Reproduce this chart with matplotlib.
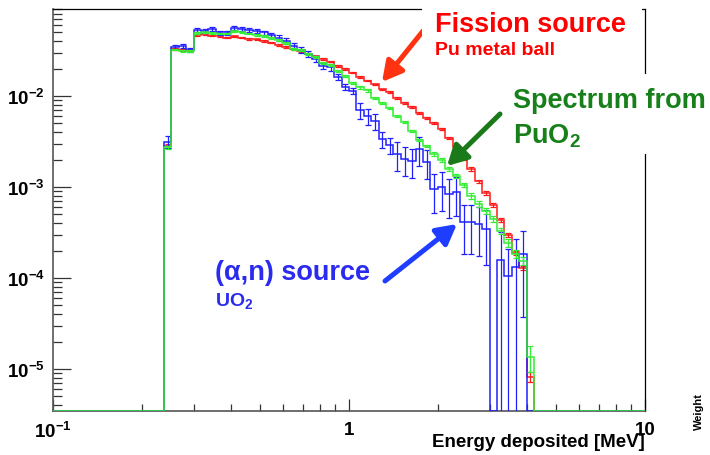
import numpy as np
import matplotlib.pyplot as plt
from matplotlib.patches import Rectangle
from matplotlib.ticker import FixedLocator, FixedFormatter, LogLocator, NullFormatter

plt.rcParams['font.family'] = ['Liberation Sans', 'DejaVu Sans']
plt.rcParams['font.weight'] = 'bold'
plt.rcParams['mathtext.fontset'] = 'custom'
plt.rcParams['mathtext.rm'] = 'Liberation Sans:bold'
plt.rcParams['mathtext.it'] = 'Liberation Sans:bold'
plt.rcParams['mathtext.bf'] = 'Liberation Sans:bold'

# 80 log bins between 0.1 and 10 MeV, filled from bin 15 to bin 64
edges = np.logspace(-1, 1, 81)
first_bin = 15

# fission source, Pu metal ball
fission = [0.00283, 0.0328, 0.0320, 0.0320, 0.0468, 0.0480, 0.0462, 0.0456, 0.0439, 0.0451,
           0.0439, 0.0423, 0.0418, 0.0402, 0.0387, 0.0363, 0.0345, 0.0328, 0.0313, 0.0293,
           0.0272, 0.0255, 0.0237, 0.0214, 0.0198, 0.0181, 0.0162, 0.0148, 0.0134, 0.0119,
           0.0111, 0.00951, 0.00838, 0.00757, 0.00650, 0.00573, 0.00505, 0.00434, 0.00345, 0.00275,
           0.00205, 0.00158, 0.00116, 0.000859, 0.000634, 0.000434, 0.000297, 0.000188, 0.000129, 8.2e-6]
fission_rel = [0.05] + [0.015] * 29 + [0.025] * 10 + [0.04] * 5 + [0.06] * 4 + [0.13]

# PuO2
puo2 = [0.00272, 0.0324, 0.0313, 0.0313, 0.0492, 0.0499, 0.0492, 0.0486, 0.0486, 0.0512,
        0.0499, 0.0486, 0.0468, 0.0456, 0.0434, 0.0412, 0.0382, 0.0328, 0.0320, 0.0290,
        0.0269, 0.0231, 0.0219, 0.0188, 0.0166, 0.0139, 0.0124, 0.0115, 0.00951, 0.00838,
        0.00738, 0.00603, 0.00518, 0.00412, 0.00328, 0.00283, 0.00231, 0.00198, 0.00158, 0.00132,
        0.00105, 0.000796, 0.000650, 0.000544, 0.000445, 0.000328, 0.000243, 0.000184, 0.000154, 1.36e-5]
puo2_rel = [0.05] + [0.02] * 25 + [0.03] * 10 + [0.05] * 5 + [0.07] * 5 + [0.1] * 3 + [0.32]

# (alpha,n) source, UO2
uo2 = [0.00315, 0.0345, 0.0354, 0.0324, 0.0538, 0.0518, 0.0545, 0.0499, 0.0499, 0.0558,
       0.0545, 0.0538, 0.0518, 0.0499, 0.0474, 0.0439, 0.0402, 0.0354, 0.0324, 0.0290,
       0.0255, 0.0214, 0.0206, 0.0162, 0.0126, 0.0114, 0.00702, 0.00603, 0.00531, 0.00337,
       0.00290, 0.00231, 0.00203, 0.00193, 0.00262, 0.00188, 0.000951, 0.00100, 0.000838, 0.000881,
       0.000412, 0.000412, 0.000392, 0.000345, 0.0, 0.000159, 0.000105, 0.000132, 0.000184, 0.0]
uo2_rel = ([0.14] + [0.05] * 14 + [0.08] * 11 + [0.2] * 5 + [0.35] * 5 + [0.45] * 4
           + [0.55] * 3 + [0.6, 0.0, 1.0, 1.0, 1.05, 0.8, 0.0])

ymin, ymax = 3.45e-6, 0.0904


def full(vals):
    out = np.zeros(len(edges) - 1)
    out[first_bin:first_bin + len(vals)] = vals
    return out


def draw_hist(ax, vals, rel, color, z):
    v = full(vals)
    ax.stairs(np.clip(v, ymin, None), edges, baseline=None, color=color, lw=1.1, zorder=z)
    v = np.array(vals)
    r = np.array(rel)
    lo_e = edges[first_bin:first_bin + len(v)]
    hi_e = edges[first_bin + 1:first_bin + len(v) + 1]
    centers = np.sqrt(lo_e * hi_e)
    ok = v > 0
    err = v * r
    lower = np.maximum(v - err, 1e-9)
    ax.errorbar(centers[ok], v[ok], yerr=[(v - lower)[ok], err[ok]], fmt='none',
                ecolor=color, elinewidth=0.9, capsize=2, capthick=0.9, zorder=z)


fig = plt.figure(figsize=(7.1, 4.56), dpi=100)
ax = fig.add_axes([53 / 710, 1 - 412 / 456, 592 / 710, 402 / 456])

draw_hist(ax, fission, fission_rel, '#ff1a1a', 2)
draw_hist(ax, uo2, uo2_rel, '#2020ff', 3)
draw_hist(ax, puo2, puo2_rel, '#33ee33', 4)

ax.set_xscale('log')
ax.set_yscale('log')
ax.set_xlim(0.1, 10)
ax.set_ylim(ymin, ymax)

ax.xaxis.set_major_locator(FixedLocator([0.1, 1, 10]))
ax.xaxis.set_major_formatter(FixedFormatter([r'$10^{-1}$', '1', '10']))
ax.xaxis.set_minor_locator(LogLocator(base=10, subs=np.arange(2, 10)))
ax.xaxis.set_minor_formatter(NullFormatter())
ax.yaxis.set_major_locator(FixedLocator([1e-5, 1e-4, 1e-3, 1e-2]))
ax.yaxis.set_major_formatter(FixedFormatter([r'$10^{-5}$', r'$10^{-4}$', r'$10^{-3}$', r'$10^{-2}$']))
ax.yaxis.set_minor_locator(LogLocator(base=10, subs=np.arange(2, 10), numticks=20))
ax.yaxis.set_minor_formatter(NullFormatter())

ax.tick_params(axis='x', which='major', direction='in', length=8.6, width=0.9,
               color='#333333', labelsize=13.5, pad=7)
ax.tick_params(axis='x', which='minor', direction='in', length=5, width=0.9, color='#333333')
ax.tick_params(axis='y', which='major', direction='in', length=13, width=0.9,
               color='#333333', labelsize=13.5, pad=6)
ax.tick_params(axis='y', which='minor', direction='in', length=6.5, width=0.9, color='#333333')
for side in ['left', 'bottom']:
    ax.spines[side].set_color('#555555')
    ax.spines[side].set_linewidth(1.2)
for side in ['top', 'right']:
    ax.spines[side].set_color('black')
    ax.spines[side].set_linewidth(0.9)

ax.set_xlabel('Energy deposited [MeV]', fontsize=13.5, fontweight='bold', ha='right')
ax.xaxis.set_label_coords(1.0, -22 / 402)

fig.text(699 / 710, 44 / 456, 'Weight', rotation=90, fontsize=8, fontweight='bold',
         ha='center', va='center')

# white boxes behind the annotations (they hide the frame)
fig.add_artist(Rectangle((422 / 710, 1 - 62 / 456), 220 / 710, 62 / 456,
                         transform=fig.transFigure, facecolor='white', edgecolor='none', zorder=2))
fig.add_artist(Rectangle((505 / 710, 1 - 155 / 456), 205 / 710, 80 / 456,
                         transform=fig.transFigure, facecolor='white', edgecolor='none', zorder=2))


def px(x, y):
    return x / 710, 1 - y / 456


def label(x, y, s, color, size):
    fig.text(*px(x, y), s, color=color, fontsize=size, fontweight='bold',
             ha='left', va='baseline', zorder=5)


def arrow(tail, tip, color):
    ax.annotate('', xy=px(*tip), xytext=px(*tail), xycoords='figure fraction',
                textcoords='figure fraction', annotation_clip=False, zorder=6,
                arrowprops=dict(arrowstyle='-|>,head_length=1.2,head_width=0.65',
                                mutation_scale=10, lw=3.6, color=color,
                                shrinkA=0, shrinkB=0))


label(435, 32, 'Fission source', '#ff0000', 19.5)
label(435, 55, 'Pu metal ball', '#ff0000', 14)
label(513, 108, 'Spectrum from', '#17801a', 19.5)
label(513, 143, r'PuO$_2$', '#17801a', 19.5)
label(215, 280, '(α,n) source', '#2b2bf0', 19.5)
label(215, 306, r'UO$_2$', '#2b2bf0', 14)

arrow((423, 32), (382, 83), '#ff3311')
arrow((500, 115), (447, 167), '#1a7a1a')
arrow((385, 282), (457, 225), '#1f3dff')

fig.savefig('out.png', dpi=100)
